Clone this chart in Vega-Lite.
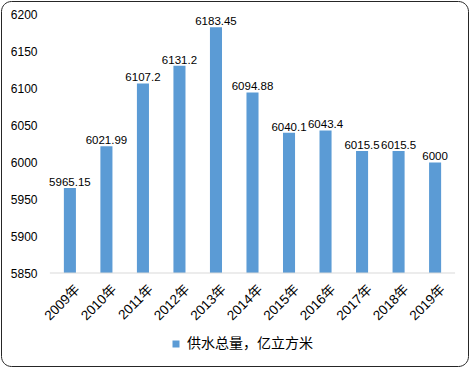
{
  "$schema": "https://vega.github.io/schema/vega-lite/v6.json",
  "autosize": "none",
  "width": 467,
  "height": 365,
  "padding": 1,
  "background": "white",
  "config": {"view": {"stroke": "#262626", "strokeWidth": 1, "cornerRadius": 10}, "font": "Liberation Sans, Noto Sans CJK SC"},
  "datasets": {
    "supply": [
      {"year": "2009年", "value": 5965.15, "series": "供水总量，亿立方米"},
      {"year": "2010年", "value": 6021.99, "series": "供水总量，亿立方米"},
      {"year": "2011年", "value": 6107.2, "series": "供水总量，亿立方米"},
      {"year": "2012年", "value": 6131.2, "series": "供水总量，亿立方米"},
      {"year": "2013年", "value": 6183.45, "series": "供水总量，亿立方米"},
      {"year": "2014年", "value": 6094.88, "series": "供水总量，亿立方米"},
      {"year": "2015年", "value": 6040.1, "series": "供水总量，亿立方米"},
      {"year": "2016年", "value": 6043.4, "series": "供水总量，亿立方米"},
      {"year": "2017年", "value": 6015.5, "series": "供水总量，亿立方米"},
      {"year": "2018年", "value": 6015.5, "series": "供水总量，亿立方米"},
      {"year": "2019年", "value": 6000, "series": "供水总量，亿立方米"}
    ],
    "baseline": [{"a": "2009年", "b": "2019年", "v": 5850}]
  },
  "resolve": {"scale": {"x": "shared", "y": "shared"}},
  "layer": [
    {
      "data": {"name": "supply"},
      "mark": {"type": "bar", "clip": true},
      "encoding": {
        "x": {"field": "year", "type": "nominal", "sort": null,
          "scale": {"range": [49, 454], "paddingInner": 0.67, "paddingOuter": 0.38},
          "axis": {"title": null, "orient": "bottom", "offset": -93, "labelAngle": -45, "labelFontSize": 13.5, "labelColor": "#000000", "ticks": false, "domain": false, "labelPadding": 9, "labelOffset": 3}},
        "y": {"field": "value", "type": "quantitative",
          "scale": {"domain": [5723.84, 6218.99], "zero": false, "nice": false},
          "axis": {"title": null, "orient": "left", "offset": -49, "values": [5850, 5900, 5950, 6000, 6050, 6100, 6150, 6200], "format": "d", "grid": false, "ticks": false, "domain": false, "labelFontSize": 12, "labelColor": "#000000", "labelPadding": 13}},
        "y2": {"datum": 5850},
        "color": {"field": "series", "type": "nominal", "scale": {"range": ["#5B9BD5"]},
          "legend": {"title": null, "orient": "none", "legendX": 168, "legendY": 336, "padding": 0, "direction": "horizontal", "symbolType": "square", "symbolSize": 49, "symbolStrokeWidth": 0, "labelFontSize": 14, "labelColor": "#000000", "labelOffset": 4}}
      }
    },
    {
      "data": {"name": "supply"},
      "mark": {"type": "text", "baseline": "alphabetic", "dy": -2, "fontSize": 11.5, "color": "#000000"},
      "encoding": {
        "x": {"field": "year", "type": "nominal", "sort": null},
        "y": {"field": "value", "type": "quantitative"},
        "text": {"field": "value", "type": "quantitative", "format": "~f"}
      }
    },
    {
      "data": {"name": "baseline"},
      "mark": {"type": "rule", "color": "#d9d9d9", "strokeWidth": 1, "xOffset": -20, "x2Offset": 20},
      "encoding": {
        "x": {"field": "a", "type": "nominal"},
        "x2": {"field": "b"},
        "y": {"field": "v", "type": "quantitative"}
      }
    }
  ]
}
